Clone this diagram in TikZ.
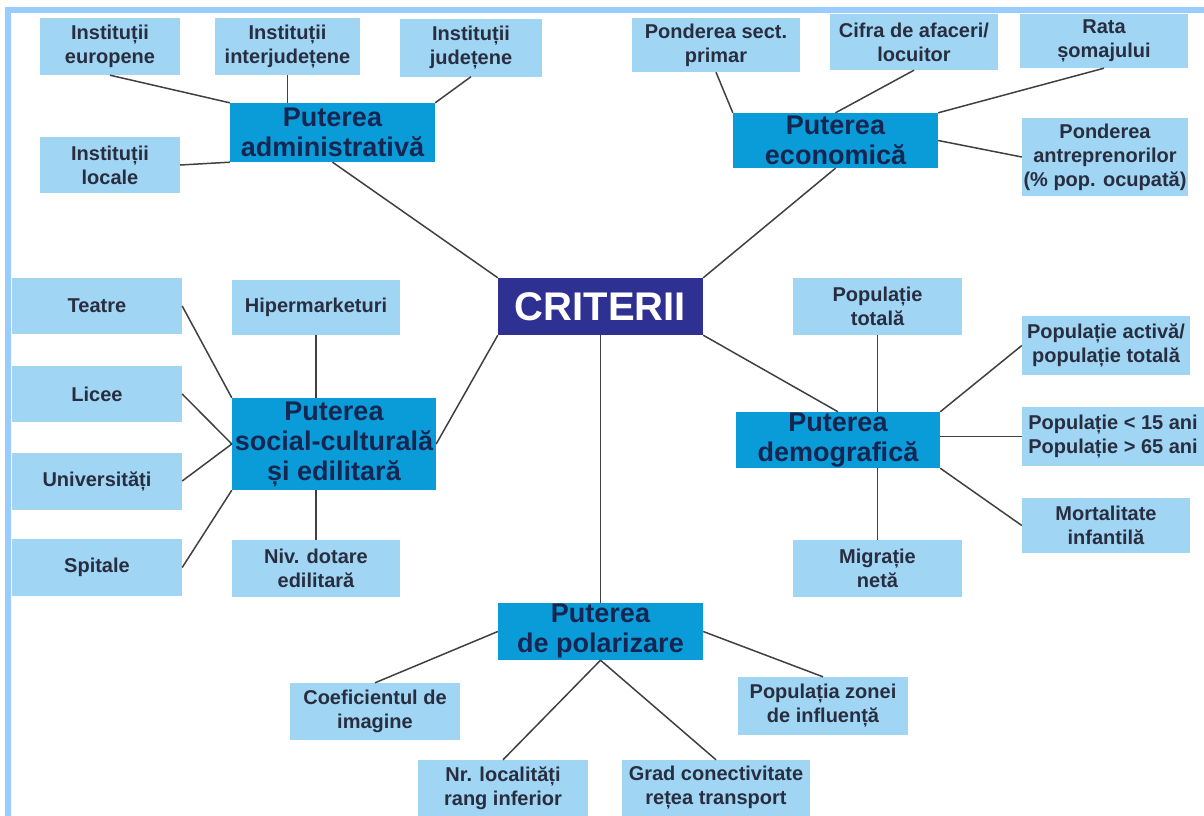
\documentclass[tikz,border=0pt]{standalone}
\usepackage{fontspec}
\setmainfont{Liberation Sans}
\definecolor{leafblue}{RGB}{160,213,243}
\definecolor{powerblue}{RGB}{10,156,216}
\definecolor{rootblue}{RGB}{46,49,146}
\definecolor{frameblue}{RGB}{153,204,255}
\definecolor{leaftext}{RGB}{40,46,64}
\definecolor{powertext}{RGB}{22,38,80}
\definecolor{linkgray}{RGB}{64,64,64}

\begin{document}
\begin{tikzpicture}[x=1pt,y=-1pt,inner sep=0pt,
  leaf/.style={fill=leafblue,text=leaftext,align=center,minimum width=168pt,minimum height=56pt,
    font=\bfseries\fontsize{20}{24}\selectfont},
  power/.style={fill=powerblue,text=powertext,align=center,minimum width=205pt,minimum height=57pt,
    font=\bfseries\fontsize{27}{30}\selectfont},
  root/.style={fill=rootblue,text=white,minimum width=205pt,minimum height=57pt,
    font=\bfseries\fontsize{40}{44}\selectfont},
  link/.style={draw=linkgray,line width=1.5pt}]
  \useasboundingbox (0,0) rectangle (1204,816);
  \fill[frameblue] (5,7) rectangle (11,816);
  \fill[frameblue] (5,7) rectangle (1204,13);

  \node[root] (crit) at (600.5,306.5) {CRITERII};

  \node[power,minimum height=59pt] (adm) at (332.5,132.5) {Puterea\\administrativă};
  \node[leaf,minimum width=140pt,minimum height=57pt] (eu) at (110,46.5) {Instituții\\europene};
  \node[leaf,minimum width=145pt,minimum height=57pt] (ij) at (287.5,46.5) {Instituții\\interjudețene};
  \node[leaf,minimum width=142pt,minimum height=57pt] (jud) at (471,48) {Instituții\\județene};
  \node[leaf,minimum width=140pt] (loc) at (110,165) {Instituții\\locale};

  \node[power,minimum height=55pt] (eco) at (835.5,140.5) {Puterea\\economică};
  \node[leaf,minimum height=54pt] (psp) at (716,45) {Ponderea sect.\\primar};
  \node[leaf] (cif) at (914,42) {Cifra de afaceri/\\locuitor};
  \node[leaf,minimum height=54pt] (rata) at (1104,41) {Rata\\șomajului};
  \node[leaf,minimum width=166pt,minimum height=78pt] (antr) at (1105,157) {Ponderea\\antreprenorilor\\(\% pop. ocupată)};

  \node[power,minimum width=204pt,minimum height=92pt] (soc) at (334,444) {Puterea\\social-culturală\\și edilitară};
  \node[leaf,minimum width=170pt] (tea) at (97,306) {Teatre};
  \node[leaf,minimum width=170pt] (lic) at (97,394) {Licee};
  \node[leaf,minimum width=170pt,minimum height=57pt] (uni) at (97,481) {Universități};
  \node[leaf,minimum width=170pt,minimum height=57pt] (spi) at (97,567.5) {Spitale};
  \node[leaf,minimum height=55pt] (hip) at (316,307) {Hipermarketuri};
  \node[leaf,minimum height=57pt] (niv) at (316,568.5) {Niv. dotare\\edilitară};

  \node[power,minimum width=204pt,minimum height=56pt] (dem) at (838,440) {Puterea\\demografică};
  \node[leaf,minimum width=169pt,minimum height=57pt] (pt) at (877.5,306.5) {Populație\\totală};
  \node[leaf,minimum height=59pt] (pa) at (1106,345.5) {Populație activă/\\populație totală};
  \node[leaf,minimum width=182pt,minimum height=59pt] (pv) at (1113,436.5) {Populație < 15 ani\\Populație > 65 ani};
  \node[leaf,minimum height=55pt] (mort) at (1106,525.5) {Mortalitate\\infantilă};
  \node[leaf,minimum width=169pt,minimum height=57pt] (mig) at (877.5,568.5) {Migrație\\netă};

  \node[power] (pol) at (600.5,631.5) {Puterea\\de polarizare};
  \node[leaf,minimum width=170pt,minimum height=57pt] (coef) at (375,711.5) {Coeficientul de\\imagine};
  \node[leaf,minimum width=170pt,minimum height=58pt] (pz) at (823,706) {Populația zonei\\de influență};
  \node[leaf,minimum width=170pt] (nr) at (503,788) {Nr. localități\\rang inferior};
  \node[leaf,minimum width=188pt] (grad) at (716,788) {Grad conectivitate\\rețea transport};

  \foreach \a/\b in {eu.south/adm.north west,jud.south/adm.north east,loc.east/adm.south west,
      adm.south/crit.north west,psp.south/eco.north west,cif.south/eco.north,
      rata.south/eco.north east,antr.west/eco.east,eco.south/crit.north east,
      tea.east/soc.north west,lic.east/soc.west,uni.east/soc.west,spi.east/soc.south west,
      soc.east/crit.south west,crit.south/pol.north,crit.south east/dem.north,
      pa.west/dem.north east,mort.west/dem.south east,pol.west/coef.north,
      pol.south/nr.north,pol.south/grad.north,pol.east/pz.north}
    \draw[link] (\a) -- (\b);
  \foreach \a/\b in {ij.south/adm.north,hip.south/soc.north,niv.north/soc.south,
      pt.south/dem.north,mig.north/dem.south}
    \draw[link] (\a) -- (\a |- \b);
  \draw[link] (pv.west) -- (pv.west -| dem.east);
\end{tikzpicture}
\end{document}
